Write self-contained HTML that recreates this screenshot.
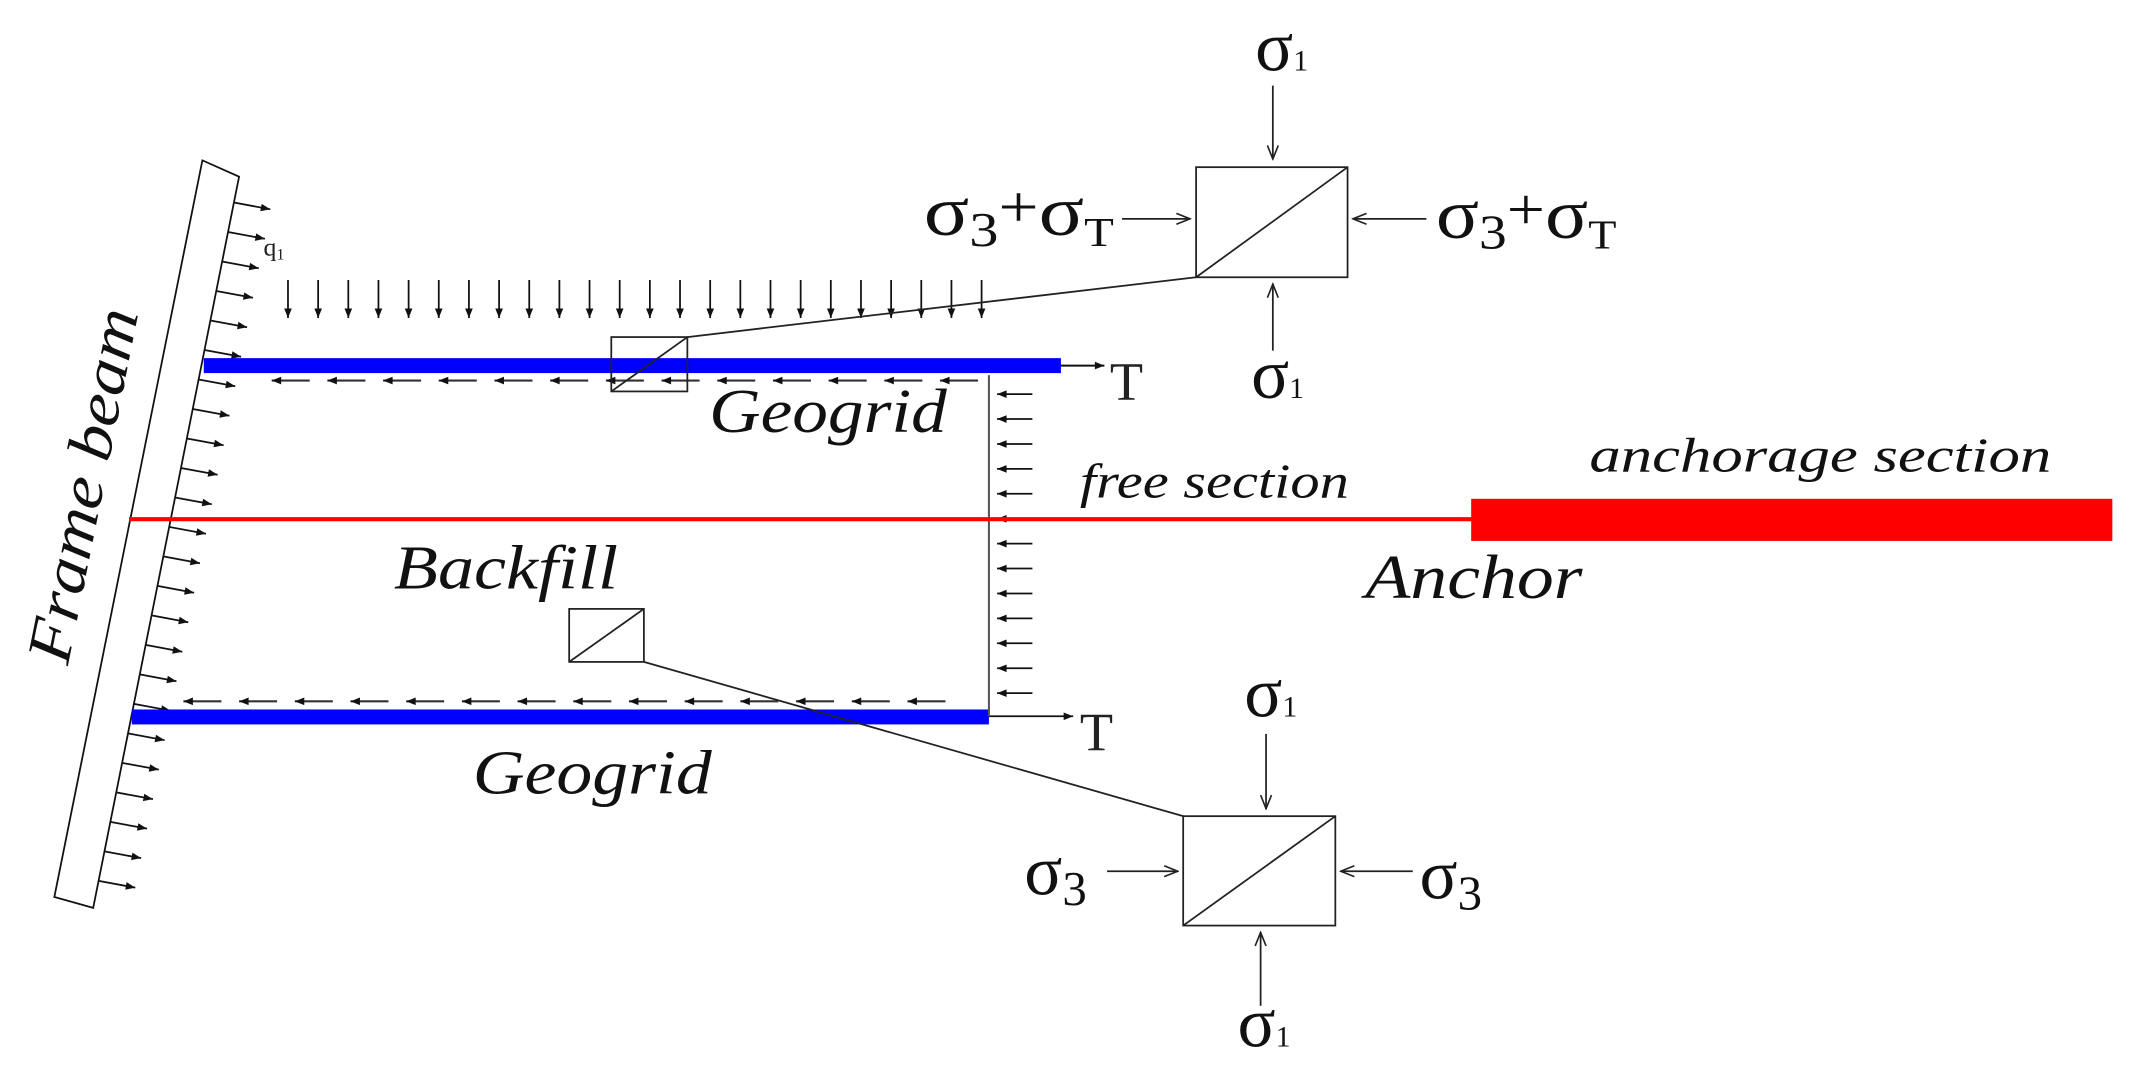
<!DOCTYPE html>
<html><head><meta charset="utf-8"><style>html,body{margin:0;padding:0;background:#fff}svg{display:block}</style></head>
<body>
<svg width="2130" height="1071" viewBox="0 0 1568 788" preserveAspectRatio="none" xmlns="http://www.w3.org/2000/svg">
<defs>
<marker id="a" viewBox="0 0 10 10" refX="10" refY="5" markerWidth="9" markerHeight="7" orient="auto" markerUnits="userSpaceOnUse"><path d="M0,1 L10,5 L0,9 z" fill="#111"/></marker>
<marker id="v" viewBox="0 0 10 10" refX="10" refY="5" markerWidth="12" markerHeight="10" orient="auto" markerUnits="userSpaceOnUse"><path d="M0,1 L10,5 L0,9" fill="none" stroke="#222" stroke-width="1.2"/></marker>
</defs>
<rect width="1568" height="788" fill="#fff"/>
<polygon points="149,118 176,130 68.6,668 40,660" fill="#fff" stroke="#111" stroke-width="1.3"/>
<g stroke="#111" stroke-width="1.3" marker-end="url(#a)">
<line x1="172.2" y1="149" x2="199" y2="154"/>
<line x1="167.9" y1="170.7" x2="195" y2="175.7"/>
<line x1="163.5" y1="192.4" x2="190.5" y2="197.4"/>
<line x1="159.2" y1="214.1" x2="186.2" y2="219.1"/>
<line x1="154.9" y1="235.8" x2="181.9" y2="240.8"/>
<line x1="150.5" y1="257.5" x2="177.5" y2="262.5"/>
<line x1="146.2" y1="279.2" x2="173.2" y2="284.2"/>
<line x1="141.9" y1="300.9" x2="168.9" y2="305.9"/>
<line x1="137.6" y1="322.6" x2="164.6" y2="327.6"/>
<line x1="133.2" y1="344.3" x2="160.2" y2="349.3"/>
<line x1="128.9" y1="366" x2="155.9" y2="371"/>
<line x1="124.6" y1="387.7" x2="151.6" y2="392.7"/>
<line x1="120.2" y1="409.4" x2="147.2" y2="414.4"/>
<line x1="115.9" y1="431.1" x2="142.9" y2="436.1"/>
<line x1="111.6" y1="452.8" x2="138.6" y2="457.8"/>
<line x1="107.2" y1="474.5" x2="134.2" y2="479.5"/>
<line x1="102.9" y1="496.2" x2="129.9" y2="501.2"/>
<line x1="98.6" y1="517.9" x2="125.6" y2="522.9"/>
<line x1="94.2" y1="539.6" x2="121.2" y2="544.6"/>
<line x1="89.9" y1="561.3" x2="116.9" y2="566.3"/>
<line x1="85.6" y1="583" x2="112.6" y2="588"/>
<line x1="81.2" y1="604.7" x2="108.2" y2="609.7"/>
<line x1="76.9" y1="626.4" x2="103.9" y2="631.4"/>
<line x1="72.6" y1="648.1" x2="99.6" y2="653.1"/>
</g>
<text x="194" y="188" font-family="Liberation Serif, serif" font-size="19" fill="#222">q<tspan font-size="12" dy="3">1</tspan></text>
<g stroke="#111" stroke-width="1.3" marker-end="url(#a)">
<line x1="212" y1="206" x2="212" y2="234"/><line x1="234.2" y1="206" x2="234.2" y2="234"/><line x1="256.4" y1="206" x2="256.4" y2="234"/><line x1="278.6" y1="206" x2="278.6" y2="234"/><line x1="300.8" y1="206" x2="300.8" y2="234"/><line x1="323" y1="206" x2="323" y2="234"/><line x1="345.2" y1="206" x2="345.2" y2="234"/><line x1="367.4" y1="206" x2="367.4" y2="234"/><line x1="389.6" y1="206" x2="389.6" y2="234"/><line x1="411.8" y1="206" x2="411.8" y2="234"/><line x1="434" y1="206" x2="434" y2="234"/><line x1="456.2" y1="206" x2="456.2" y2="234"/><line x1="478.4" y1="206" x2="478.4" y2="234"/><line x1="500.6" y1="206" x2="500.6" y2="234"/><line x1="522.8" y1="206" x2="522.8" y2="234"/><line x1="545" y1="206" x2="545" y2="234"/><line x1="567.2" y1="206" x2="567.2" y2="234"/><line x1="589.4" y1="206" x2="589.4" y2="234"/><line x1="611.6" y1="206" x2="611.6" y2="234"/><line x1="633.8" y1="206" x2="633.8" y2="234"/><line x1="656" y1="206" x2="656" y2="234"/><line x1="678.2" y1="206" x2="678.2" y2="234"/><line x1="700.4" y1="206" x2="700.4" y2="234"/><line x1="722.6" y1="206" x2="722.6" y2="234"/>
</g>
<rect x="150" y="263.5" width="631" height="11" fill="#0000ff"/>
<line x1="781" y1="269" x2="813" y2="269" stroke="#111" stroke-width="1.5" marker-end="url(#a)"/>
<text x="817" y="294" font-family="Liberation Serif, serif" font-size="40" fill="#222">T</text>
<rect x="97" y="522" width="631" height="11" fill="#0000ff"/>
<line x1="728" y1="527" x2="790" y2="527" stroke="#111" stroke-width="1.3" marker-end="url(#a)"/>
<text x="795" y="552" font-family="Liberation Serif, serif" font-size="40" fill="#222">T</text>
<g stroke="#333" stroke-width="1.5" marker-end="url(#a)">
<line x1="228" y1="280" x2="200" y2="280"/><line x1="269" y1="280" x2="241" y2="280"/><line x1="310" y1="280" x2="282" y2="280"/><line x1="351" y1="280" x2="323" y2="280"/><line x1="392" y1="280" x2="364" y2="280"/><line x1="433" y1="280" x2="405" y2="280"/><line x1="474" y1="280" x2="446" y2="280"/><line x1="515" y1="280" x2="487" y2="280"/><line x1="556" y1="280" x2="528" y2="280"/><line x1="597" y1="280" x2="569" y2="280"/><line x1="638" y1="280" x2="610" y2="280"/><line x1="679" y1="280" x2="651" y2="280"/><line x1="720" y1="280" x2="692" y2="280"/>
<line x1="163" y1="516" x2="135" y2="516"/><line x1="204" y1="516" x2="176" y2="516"/><line x1="245" y1="516" x2="217" y2="516"/><line x1="286" y1="516" x2="258" y2="516"/><line x1="327" y1="516" x2="299" y2="516"/><line x1="368" y1="516" x2="340" y2="516"/><line x1="409" y1="516" x2="381" y2="516"/><line x1="450" y1="516" x2="422" y2="516"/><line x1="491" y1="516" x2="463" y2="516"/><line x1="532" y1="516" x2="504" y2="516"/><line x1="573" y1="516" x2="545" y2="516"/><line x1="614" y1="516" x2="586" y2="516"/><line x1="655" y1="516" x2="627" y2="516"/><line x1="696" y1="516" x2="668" y2="516"/>
</g>
<line x1="728" y1="276" x2="728" y2="527" stroke="#555" stroke-width="1.5"/>
<g stroke="#111" stroke-width="1.3" marker-end="url(#a)">
<line x1="760" y1="290" x2="734" y2="290"/><line x1="760" y1="308.3" x2="734" y2="308.3"/><line x1="760" y1="326.7" x2="734" y2="326.7"/><line x1="760" y1="345" x2="734" y2="345"/><line x1="760" y1="363.3" x2="734" y2="363.3"/><line x1="760" y1="381.7" x2="734" y2="381.7"/><line x1="760" y1="400" x2="734" y2="400"/><line x1="760" y1="418.3" x2="734" y2="418.3"/><line x1="760" y1="436.7" x2="734" y2="436.7"/><line x1="760" y1="455" x2="734" y2="455"/><line x1="760" y1="473.3" x2="734" y2="473.3"/><line x1="760" y1="491.7" x2="734" y2="491.7"/><line x1="760" y1="510" x2="734" y2="510"/>
</g>
<line x1="95" y1="382" x2="1084" y2="382" stroke="#ff0000" stroke-width="3"/>
<rect x="1083" y="367" width="472" height="31" fill="#ff0000"/>
<g stroke="#222" stroke-width="1.3" fill="none">
<rect x="450" y="248" width="56" height="40"/><line x1="450" y1="288" x2="506" y2="248"/>
<line x1="506" y1="248" x2="880.5" y2="204"/>
<rect x="419" y="448" width="55" height="39"/><line x1="419" y1="487" x2="474" y2="448"/>
<line x1="474" y1="487" x2="871" y2="600.5"/>
<rect x="880.5" y="123" width="111.5" height="81"/><line x1="880.5" y1="204" x2="992" y2="123"/>
<rect x="871" y="600.5" width="112" height="80.5"/><line x1="871" y1="681" x2="983" y2="600.5"/>
</g>
<g stroke="#222" stroke-width="1.3" marker-end="url(#v)">
<line x1="937" y1="63" x2="937" y2="117"/>
<line x1="937" y1="258" x2="937" y2="209"/>
<line x1="826" y1="161" x2="876" y2="161"/>
<line x1="1050" y1="161" x2="996" y2="161"/>
<line x1="932" y1="540" x2="932" y2="595"/>
<line x1="928" y1="740" x2="928" y2="686"/>
<line x1="815" y1="641" x2="867" y2="641"/>
<line x1="1040" y1="641" x2="987" y2="641"/>
</g>
<g font-family="Liberation Serif, serif" fill="#111">
<text x="924" y="52" font-size="52">σ<tspan font-size="22">1</tspan></text>
<text x="921" y="293" font-size="52">σ<tspan font-size="22">1</tspan></text>
<text x="916" y="527" font-size="52">σ<tspan font-size="22">1</tspan></text>
<text x="911" y="770" font-size="52">σ<tspan font-size="22">1</tspan></text>
<text x="680" y="173" font-size="52" textLength="140" lengthAdjust="spacingAndGlyphs">σ<tspan font-size="36" dy="8">3</tspan><tspan dy="-14" font-size="44">+</tspan><tspan dy="6">σ</tspan><tspan font-size="30" dy="8">T</tspan></text>
<text x="1057" y="175" font-size="52" textLength="133" lengthAdjust="spacingAndGlyphs">σ<tspan font-size="36" dy="8">3</tspan><tspan dy="-14" font-size="44">+</tspan><tspan dy="6">σ</tspan><tspan font-size="30" dy="8">T</tspan></text>
<text x="754" y="658" font-size="52">σ<tspan font-size="36" dy="8">3</tspan></text>
<text x="1045" y="661" font-size="52">σ<tspan font-size="36" dy="8">3</tspan></text>
</g>
<g font-family="Liberation Serif, serif" font-style="italic" fill="#111">
<text x="522" y="318" font-size="46" textLength="175" lengthAdjust="spacingAndGlyphs">Geogrid</text>
<text x="290" y="433" font-size="46" textLength="165" lengthAdjust="spacingAndGlyphs">Backfill</text>
<text x="348" y="584" font-size="46" textLength="176" lengthAdjust="spacingAndGlyphs">Geogrid</text>
<text x="795" y="366" font-size="36" textLength="198" lengthAdjust="spacingAndGlyphs">free section</text>
<text x="1170" y="347" font-size="36" textLength="340" lengthAdjust="spacingAndGlyphs">anchorage section</text>
<text x="1005" y="440" font-size="46" textLength="160" lengthAdjust="spacingAndGlyphs">Anchor</text>
<text x="0" y="0" font-size="46" textLength="265" lengthAdjust="spacingAndGlyphs" transform="translate(50,490) rotate(-78.7)">Frame beam</text>
</g>
</svg>
</body></html>
